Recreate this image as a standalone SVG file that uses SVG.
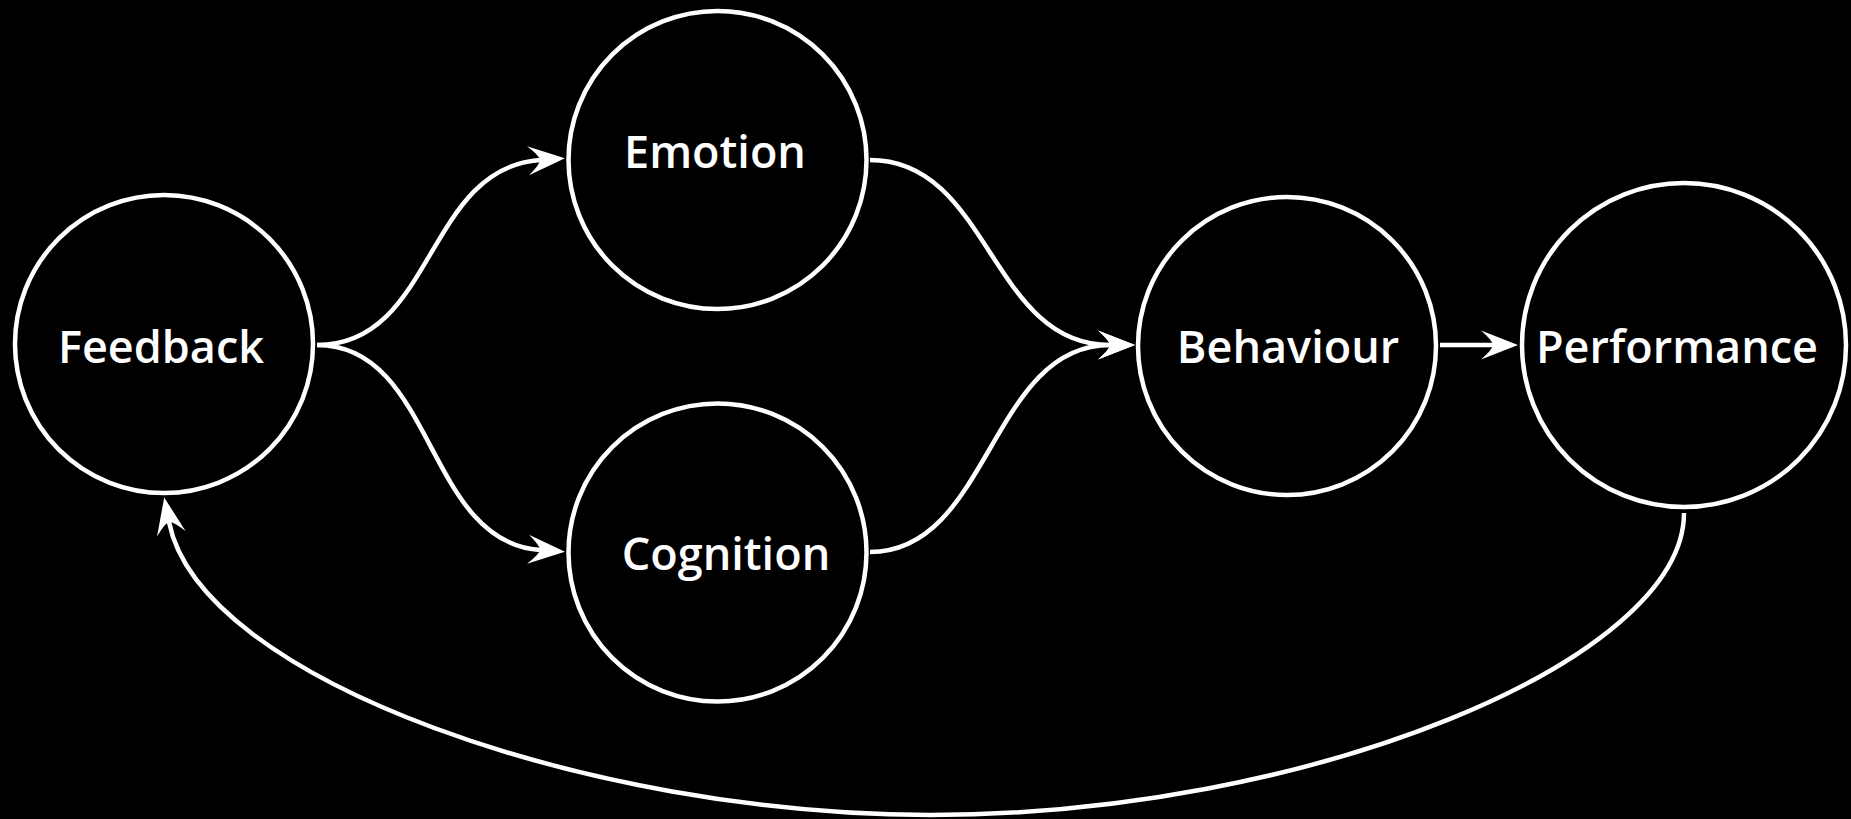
<svg xmlns="http://www.w3.org/2000/svg" width="1851" height="819" viewBox="0 0 1851 819">
  <style>
    .node circle { fill: #000; stroke: #fff; stroke-width: 4.5; }
    .node text { fill: #fff; font-family: "Open Sans", "Noto Sans", sans-serif; font-size: 45px; font-weight: 600; text-anchor: middle; }
    .edge { fill: none; stroke: #fff; stroke-width: 4.5; marker-end: url(#arrow); }
  </style>
  <defs>
    <marker id="arrow" markerUnits="userSpaceOnUse" viewBox="-14 -17 42 34" markerWidth="42" markerHeight="34" refX="0" refY="0" orient="auto" overflow="visible">
      <path d="M25,0 L-12,-14.5 Q0,-4 0,0 Q0,4 -12,14.5 Z" fill="#fff"/>
    </marker>
  </defs>
  <rect width="1851" height="819" fill="#000"/>
  <g id="connectors">
    <path class="edge" d="M317,345 C435,345 425,168 540,160"/>
    <path class="edge" d="M317,345 C435,345 425,542 540,550"/>
    <path class="edge" d="M870,160 C990,160 990,345 1110,345"/>
    <path class="edge" d="M870,552 C990,552 990,345 1110,345"/>
    <path class="edge" d="M1440,345 L1493,345"/>
    <path class="edge" d="M1684,513 C1684,660 1310,815 930,815 C590,815 200,680 169,522"/>
  </g>
  <g id="node-feedback" class="node">
    <circle cx="164" cy="344" r="149"/>
    <text x="161" y="363">Feedback</text>
  </g>
  <g id="node-emotion" class="node">
    <circle cx="717.5" cy="160" r="149"/>
    <text x="715" y="168">Emotion</text>
  </g>
  <g id="node-cognition" class="node">
    <circle cx="717.5" cy="552.5" r="149"/>
    <text x="726" y="570">Cognition</text>
  </g>
  <g id="node-behaviour" class="node">
    <circle cx="1287" cy="346" r="149"/>
    <text x="1288" y="363">Behaviour</text>
  </g>
  <g id="node-performance" class="node">
    <circle cx="1684" cy="345" r="162"/>
    <text x="1677" y="363">Performance</text>
  </g>
</svg>
